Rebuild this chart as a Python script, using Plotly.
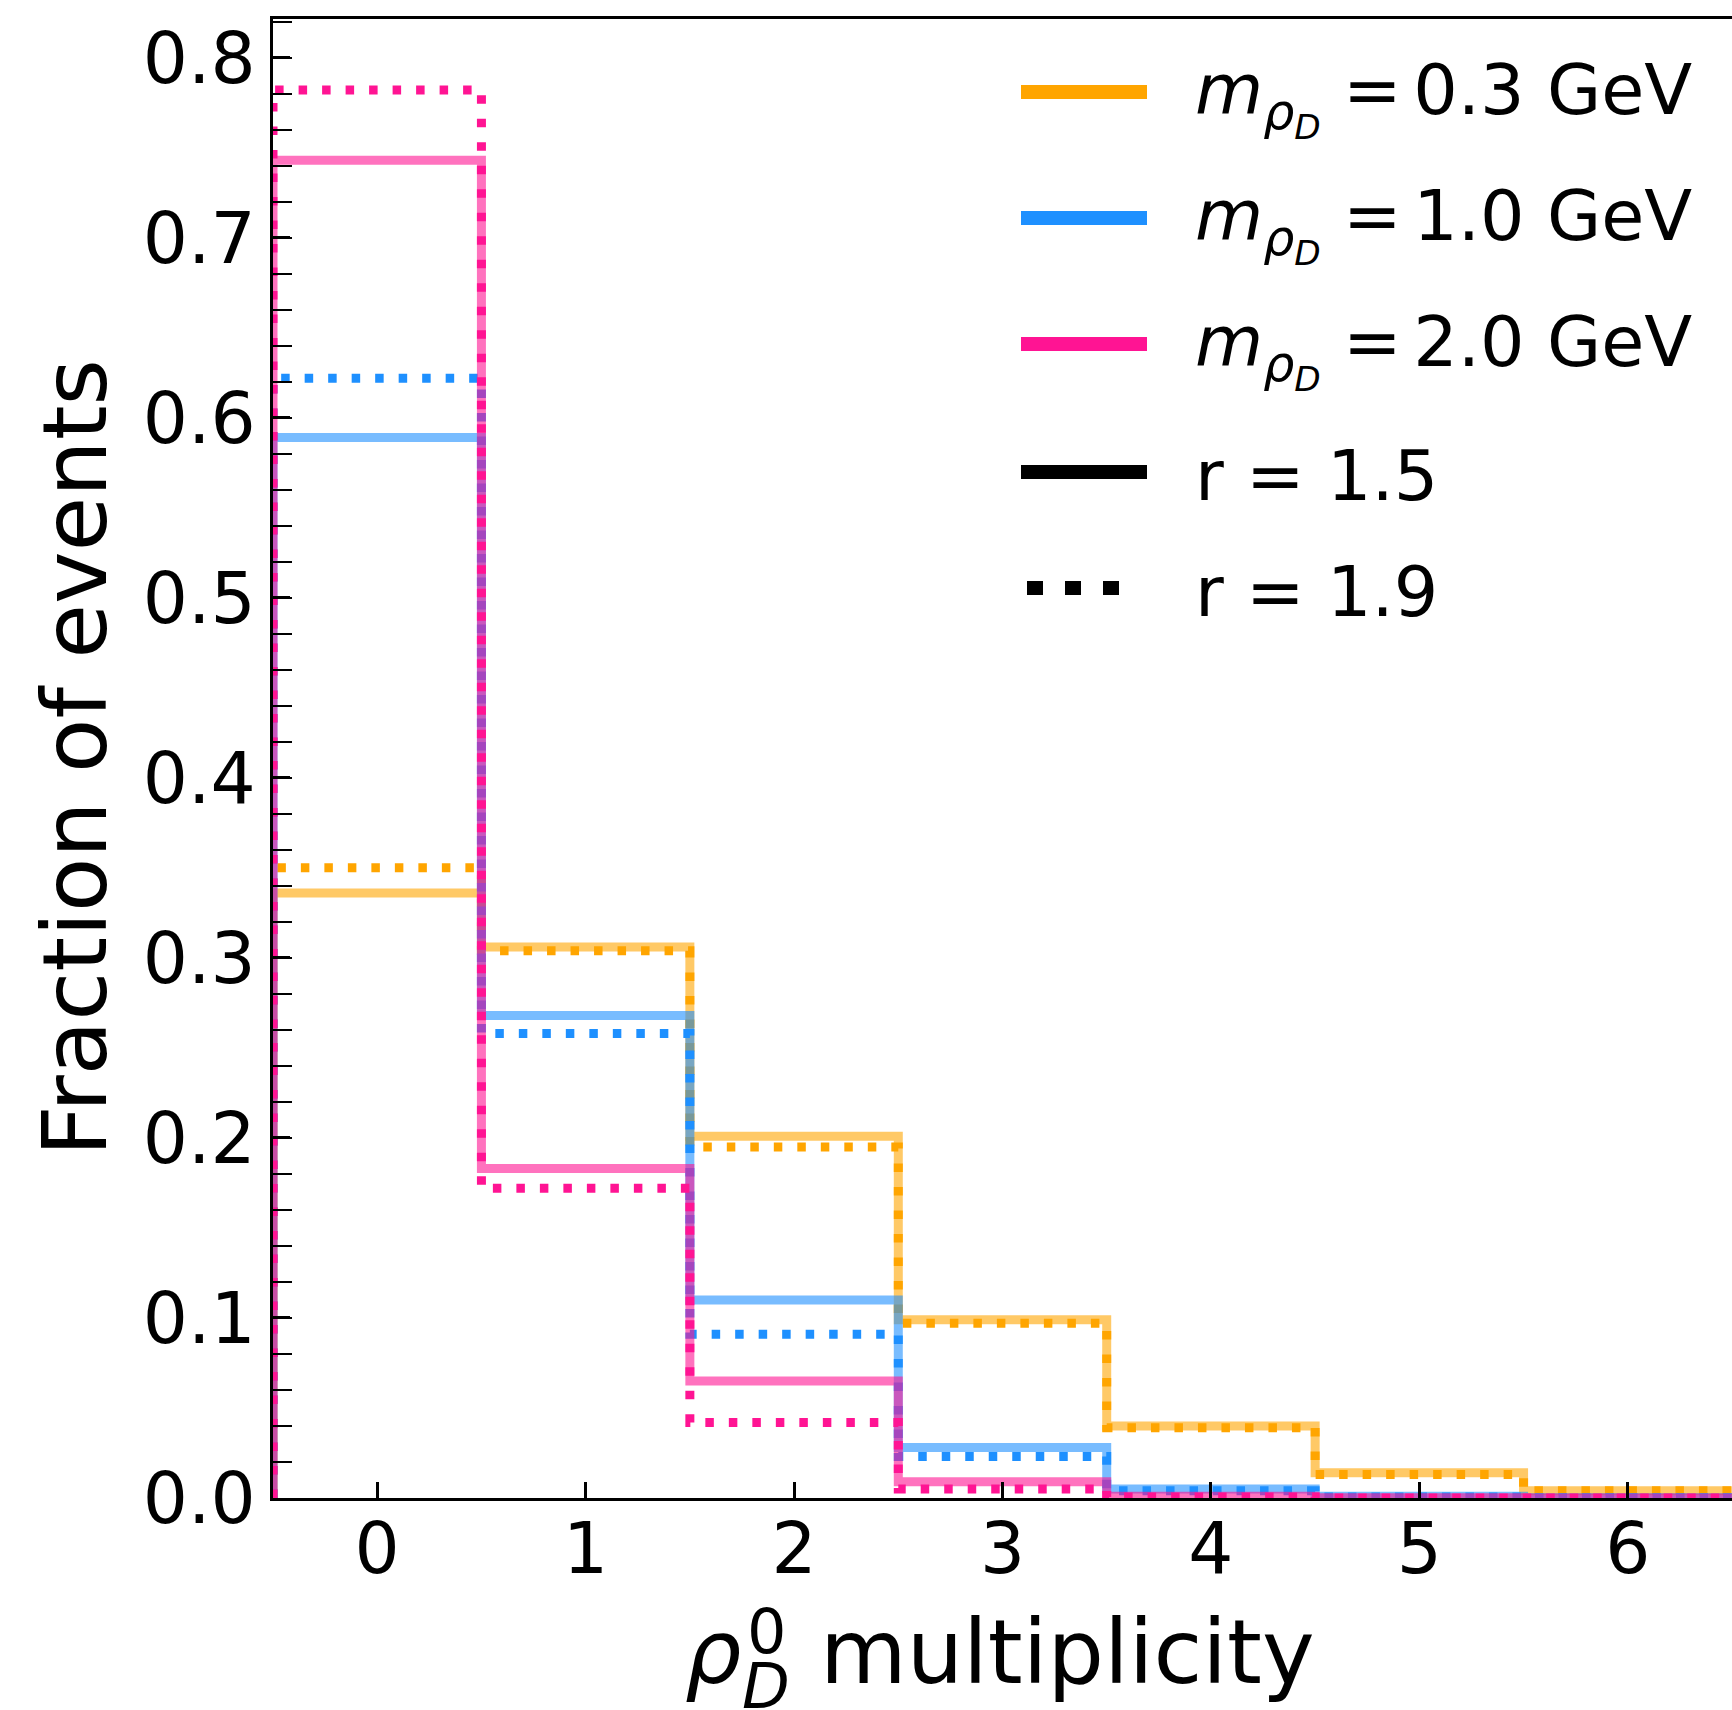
import plotly.graph_objects as go

# ---------------- data ----------------
multiplicity = [0, 1, 2, 3, 4, 5, 6]
frac_m03_r15 = [0.336, 0.306, 0.201, 0.099, 0.040, 0.014, 0.004]
frac_m03_r19 = [0.350, 0.304, 0.195, 0.097, 0.039, 0.013, 0.004]
frac_m10_r15 = [0.589, 0.268, 0.110, 0.028, 0.005, 0.001, 0.0002]
frac_m10_r19 = [0.622, 0.258, 0.091, 0.023, 0.004, 0.0006, 0.0001]
frac_m20_r15 = [0.743, 0.183, 0.065, 0.009, 0.001, 0.0001, 0.0]
frac_m20_r19 = [0.782, 0.172, 0.042, 0.005, 0.0005, 0.0, 0.0]

mass_labels = ["0.3", "1.0", "2.0"]
r_labels = ["1.5", "1.9"]
y_ticks = [0.0, 0.1, 0.2, 0.3, 0.4, 0.5, 0.6, 0.7, 0.8]

# ---------------- style ----------------
W, H = 1732, 1710
L, R, T, B = 273, 0, 19, 212
FONT = "DejaVu Sans"
TICK_SIZE = 71
LEG_SIZE = 70
colors = {"0.3": (255, 165, 0), "1.0": (30, 144, 255), "2.0": (255, 20, 147)}
series = [
    ("0.3", frac_m03_r15, frac_m03_r19),
    ("1.0", frac_m10_r15, frac_m10_r19),
    ("2.0", frac_m20_r15, frac_m20_r19),
]


def step_xy(values):
    edges = [m - 0.5 for m in multiplicity] + [multiplicity[-1] + 0.5]
    xs = [edges[0]] + edges
    ys = [0.0] + list(values) + [values[-1]]
    return xs, ys


fig = go.Figure()
for mass, solid, dotted in series:
    c = colors[mass]
    xs, ys = step_xy(solid)
    fig.add_trace(go.Scatter(
        x=xs, y=ys, mode="lines", line_shape="hv", showlegend=False,
        line=dict(color="rgba(%d,%d,%d,0.6)" % c, width=9),
        hoverinfo="skip"))
    xs, ys = step_xy(dotted)
    fig.add_trace(go.Scatter(
        x=xs, y=ys, mode="lines", line_shape="hv", showlegend=False,
        line=dict(color="rgb(%d,%d,%d)" % c, width=9, dash="8.5px,15px"),
        hoverinfo="skip"))

PW = W - L - R
PH = H - T - B


def px2x(px):
    return (px - L) / PW


def py2y(py):
    return (H - B - py) / PH


annotations = []
shapes = []

# ---- manual legend ----
leg_rows_y = [92, 218, 344, 472, 588]
leg_x0, leg_x1 = 1021, 1147
txt_x = 1193
for i, mass in enumerate(mass_labels):
    c = colors[mass]
    yy = leg_rows_y[i]
    shapes.append(dict(type="line", xref="paper", yref="paper",
                       x0=px2x(leg_x0), x1=px2x(leg_x1), y0=py2y(yy), y1=py2y(yy),
                       line=dict(color="rgb(%d,%d,%d)" % c, width=14)))
    annotations.append(dict(
        xref="paper", yref="paper", x=px2x(txt_x), y=py2y(yy - 45),
        xanchor="left", yanchor="top", showarrow=False,
        text="<i>m</i><sub><i>ρ</i><sub><i>D</i></sub></sub> =\u2006%s GeV" % mass,
        font=dict(family=FONT, size=LEG_SIZE, color="black")))
for j, (r, dash) in enumerate(zip(r_labels, ["solid", "16px,22px"])):
    yy = leg_rows_y[3 + j]
    x0 = leg_x0 if dash == "solid" else 1027
    x1 = leg_x1 if dash == "solid" else 1121
    shapes.append(dict(type="line", xref="paper", yref="paper",
                       x0=px2x(x0), x1=px2x(x1), y0=py2y(yy), y1=py2y(yy),
                       line=dict(color="black", width=14, dash=dash)))
    annotations.append(dict(
        xref="paper", yref="paper", x=px2x(txt_x), y=py2y(yy - 39),
        xanchor="left", yanchor="top", showarrow=False,
        text="r = %s" % r,
        font=dict(family=FONT, size=LEG_SIZE, color="black")))

# ---- x-axis title built from pieces ----
annotations += [
    dict(xref="paper", yref="paper", x=px2x(683), y=py2y(1598), xanchor="left",
         yanchor="top", showarrow=False, text="<i>ρ</i>",
         font=dict(family=FONT, size=89, color="black")),
    dict(xref="paper", yref="paper", x=px2x(745), y=py2y(1593), xanchor="left",
         yanchor="top", showarrow=False, text="0",
         font=dict(family=FONT, size=62, color="black")),
    dict(xref="paper", yref="paper", x=px2x(740), y=py2y(1648), xanchor="left",
         yanchor="top", showarrow=False, text="<i>D</i>",
         font=dict(family=FONT, size=62, color="black")),
    dict(xref="paper", yref="paper", x=px2x(818), y=py2y(1598), xanchor="left",
         yanchor="top", showarrow=False, text="multiplicity",
         font=dict(family=FONT, size=89, color="black")),
    dict(xref="paper", yref="paper", x=px2x(74), y=0.5, xanchor="center",
         yanchor="middle", showarrow=False, text="Fraction of events", textangle=-90,
         font=dict(family=FONT, size=89, color="black")),
]

fig.update_layout(
    width=W, height=H,
    margin=dict(l=L, r=R, t=T, b=B, pad=0),
    paper_bgcolor="white", plot_bgcolor="white",
    font=dict(family=FONT, color="black"),
    showlegend=False,
    annotations=annotations,
    shapes=shapes,
)
fig.update_xaxes(
    range=[-0.5, 6.5], tickmode="array", tickvals=multiplicity,
    ticktext=[str(m) for m in multiplicity],
    ticks="inside", ticklen=16, tickwidth=3.3, tickcolor="black",
    showline=True, linewidth=3.3, linecolor="black", mirror=True,
    showgrid=False, zeroline=False, ticklabelstandoff=-13,
    tickfont=dict(family=FONT, size=TICK_SIZE, color="black"),
)
fig.update_yaxes(
    range=[0, 0.8215], tickmode="array", tickvals=y_ticks,
    ticktext=["%.1f" % v for v in y_ticks],
    ticks="inside", ticklen=17, tickwidth=3.3, tickcolor="black",
    minor=dict(dtick=0.02, tick0=0, ticks="inside", ticklen=19, tickwidth=2, tickcolor="black"),
    showline=True, linewidth=3.3, linecolor="black", mirror=False,
    showgrid=False, zeroline=False, ticklabelstandoff=0,
    tickfont=dict(family=FONT, size=TICK_SIZE, color="black"),
)

fig.write_html("out.html")
